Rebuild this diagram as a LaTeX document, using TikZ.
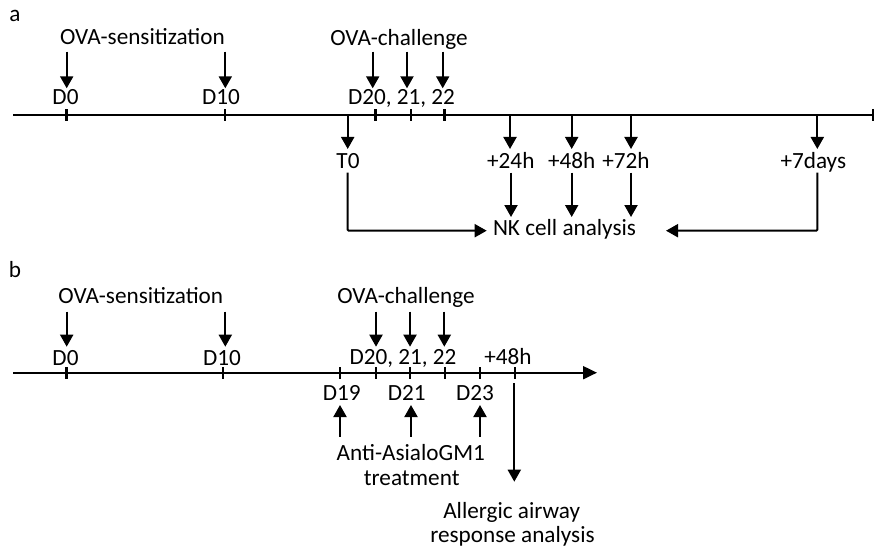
\documentclass[tikz,border=0pt]{standalone}
\usepackage{fontspec}
\setmainfont{Carlito}
\usetikzlibrary{arrows.meta}
\begin{document}
\begin{tikzpicture}[x=1pt,y=-1pt,
  lbl/.style={inner sep=0pt, anchor=base, font=\fontsize{23.2}{27}\selectfont},
  ar/.style={line width=2pt, -{Triangle[width=13pt,length=12pt]}},
  axisline/.style={line width=2pt},
  tickthick/.style={line width=2.8pt},
  tickthin/.style={line width=1.6pt},
  elbow/.style={line width=2pt, rounded corners=1pt, -{Triangle[width=13pt,length=12pt]}}]
\useasboundingbox (0,0) rectangle (874,548);

% ---------------- panel a ----------------
\node[lbl] (la) at (15,21.6) {a};
\node[lbl] (asens) at (142.5,45) {OVA-sensitization};
\node[lbl] (achal) at (399,46) {OVA-challenge};
\node[lbl] (aD0) at (65.5,105) {D0};
\node[lbl] (aD10) at (221,105) {D10};
\node[lbl] (aD20) at (401.5,105) {D20, 21, 22};
\node[lbl] (aT0) at (348,168.3) {T0};
\node[lbl] (a24) at (510.8,168.3) {+24h};
\node[lbl] (a48) at (571.7,168.3) {+48h};
\node[lbl] (a72) at (626,168.3) {+72h};
\node[lbl] (a7d) at (813.3,168.3) {+7days};
\node[lbl] (aNK) at (564.5,235) {NK cell analysis};

\coordinate (aL) at (13,115);
\coordinate (aR) at (873,115);
\draw[axisline] (aL) -- (aR);
\draw[line width=2pt] (873,109) -- (873,121);

\foreach \x in {66.7,375.7,444.7} \draw[tickthick] (\x,109.5) -- (\x,121);
\foreach \x in {225,410.7} \draw[tickthin] (\x,109.5) -- (\x,121);

\foreach \n/\x in {s0/66.7,s10/225.3,c20/372.7,c21/407,c22/442.7} {
  \coordinate (a\n t) at (\x,51.7);
  \coordinate (a\n b) at (\x,88.3);
  \draw[ar] (a\n t) -- (a\n b);
}
\foreach \n/\x in {t0/347.7,h24/510,h48/571.7,h72/631,d7/817.3} {
  \coordinate (a\n t) at (\x,115);
  \coordinate (a\n b) at (\x,149);
  \draw[ar] (a\n t) -- (a\n b);
}
\foreach \n/\x in {h24/511,h48/571.7,h72/631} {
  \coordinate (a\n u) at (\x,172.7);
  \coordinate (a\n v) at (\x,217);
  \draw[ar] (a\n u) -- (a\n v);
}
\coordinate (at0u) at (347.7,172.7);
\coordinate (aNKl) at (486.7,230.7);
\coordinate (ad7u) at (817.3,172.7);
\coordinate (aNKr) at (666,230.7);
\draw[elbow] (at0u) |- (aNKl);
\draw[elbow] (ad7u) |- (aNKr);

% ---------------- panel b ----------------
\node[lbl] (lb) at (15,277) {b};
\node[lbl] (bsens) at (140.8,303.3) {OVA-sensitization};
\node[lbl] (bchal) at (406,303.3) {OVA-challenge};
\node[lbl] (bD0) at (65.5,365) {D0};
\node[lbl] (bD10) at (222,365) {D10};
\node[lbl] (bD20) at (403,364.3) {D20, 21, 22};
\node[lbl] (b48) at (508,364.3) {+48h};
\node[lbl] (bD19) at (341.7,400) {D19};
\node[lbl] (bD21) at (406.7,400) {D21};
\node[lbl] (bD23) at (475,400) {D23};
\node[lbl] (banti) at (410.8,460) {Anti-AsialoGM1};
\node[lbl] (btreat) at (411.7,485) {treatment};
\node[lbl] (ball) at (511.7,518.5) {Allergic airway};
\node[lbl] (bresp) at (512.5,542) {response analysis};

\coordinate (bL) at (13,372.7);
\coordinate (bR) at (597,372.7);
\draw[axisline,-{Triangle[width=13pt,length=14pt]}] (bL) -- (bR);

\foreach \x in {66.7,376,445} \draw[tickthick] (\x,367) -- (\x,378.5);
\foreach \x in {223,340,410,480,515} \draw[tickthin] (\x,367) -- (\x,378.5);

\foreach \n/\x in {s0/66.7,s10/225.3,c20/376,c21/410,c22/444.3} {
  \coordinate (b\n t) at (\x,311.7);
  \coordinate (b\n b) at (\x,346.7);
  \draw[ar] (b\n t) -- (b\n b);
}
\foreach \n/\x in {d19/340,d21/411,d23/480} {
  \coordinate (b\n u) at (\x,436.7);
  \coordinate (b\n v) at (\x,405);
  \draw[ar] (b\n u) -- (b\n v);
}
\coordinate (b48u) at (514.3,383.3);
\coordinate (b48v) at (514.3,481.7);
\draw[ar] (b48u) -- (b48v);
\end{tikzpicture}
\end{document}
